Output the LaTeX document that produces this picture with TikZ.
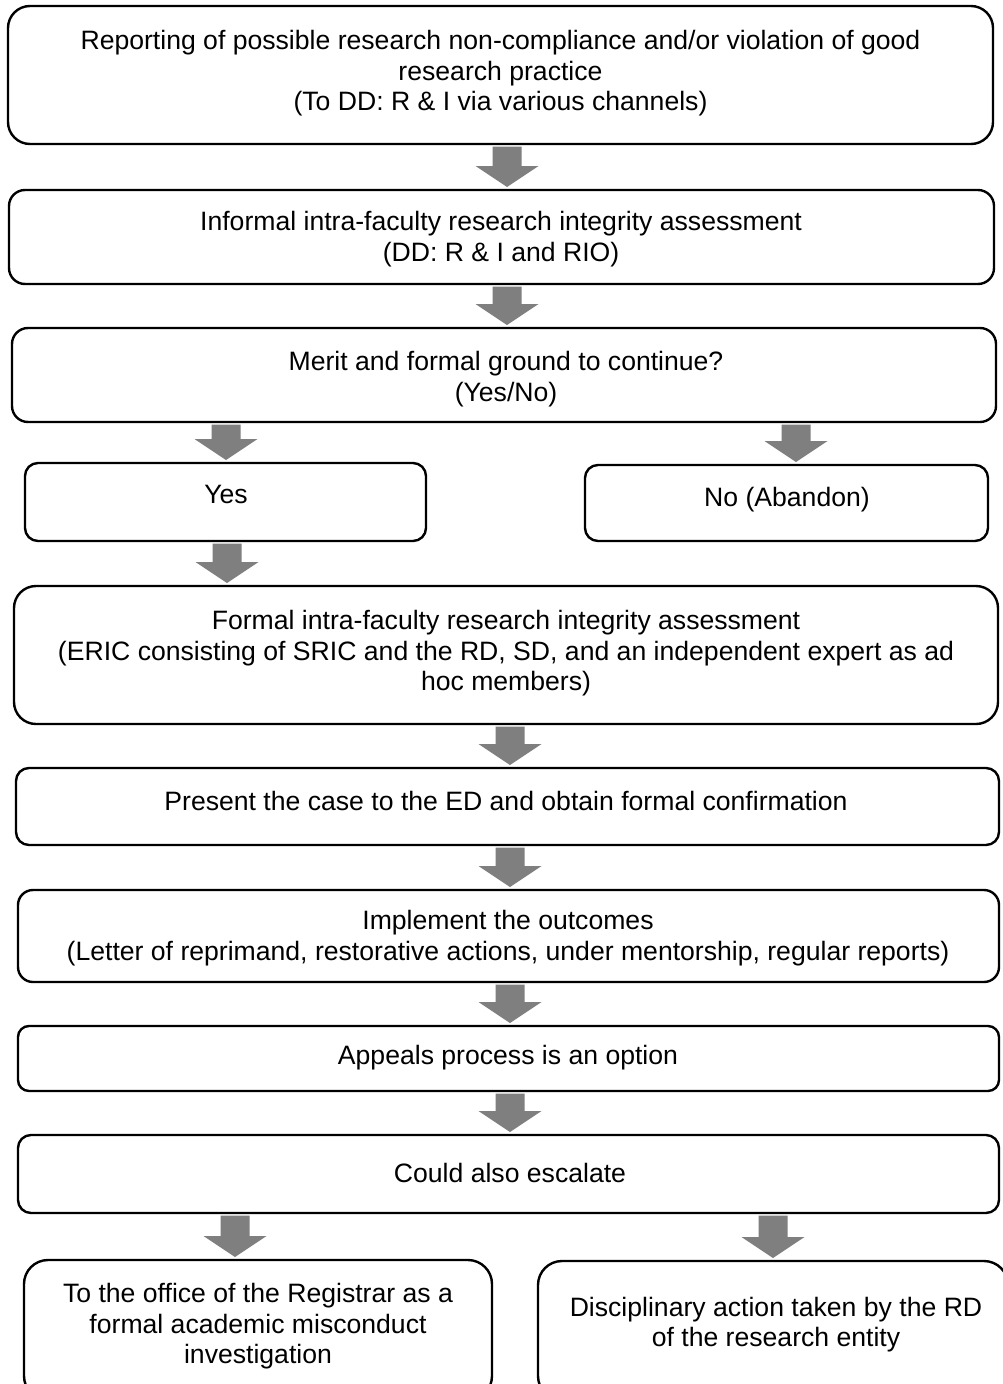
\documentclass[tikz,border=0pt]{standalone}
\usepackage{fontspec}
\setmainfont{Liberation Sans}
\usetikzlibrary{calc}
\definecolor{arrowgray}{HTML}{7F7F7F}
\tikzset{
  box/.style={draw=black, line width=2.4pt, rectangle, inner sep=0pt, outer sep=0pt},
  txt/.style={align=center, inner sep=0pt, outer sep=0pt, font=\fontsize{26.6}{30.6}\selectfont},
  blkarrow/.style={fill=arrowgray, draw=none},
}
% #1 = x of the arrow, #2 = upper node, #3 = lower node
\newcommand\blkarr[3]{%
  \path[blkarrow] let \p1=(#2.south), \p2=(#3.north) in
    (#1-14.5,\y1-2.5pt) -- (#1+14.5,\y1-2.5pt) -- (#1+14.5,\y2+24pt) --
    (#1+31.5,\y2+24pt) -- (#1,\y2+3pt) -- (#1-31.5,\y2+24pt) --
    (#1-14.5,\y2+24pt) -- cycle;}
\begin{document}
\begin{tikzpicture}[x=1pt,y=1pt]
\useasboundingbox (0,0) rectangle (1003,-1384);
\clip (0,0) rectangle (1003,-1384);
\fill[white] (0,0) rectangle (1003,-1384);

% boxes
\node[box, rounded corners=22pt, minimum width=985pt, minimum height=138pt] (b1) at (500.5,-75) {};
\node[box, rounded corners=16pt, minimum width=985pt, minimum height=94pt] (b2) at (501.5,-237) {};
\node[box, rounded corners=16pt, minimum width=984pt, minimum height=94pt] (b3) at (504,-375) {};
\node[box, rounded corners=13pt, minimum width=401pt, minimum height=78pt] (yes) at (225.5,-502) {};
\node[box, rounded corners=13pt, minimum width=403pt, minimum height=76pt] (no) at (786.5,-503) {};
\node[box, rounded corners=22pt, minimum width=984pt, minimum height=138pt] (b4) at (506,-655) {};
\node[box, rounded corners=13pt, minimum width=983pt, minimum height=77pt] (b5) at (507.5,-806.5) {};
\node[box, rounded corners=15pt, minimum width=981pt, minimum height=92pt] (b6) at (508.5,-936) {};
\node[box, rounded corners=11pt, minimum width=981pt, minimum height=65pt] (b7) at (508.5,-1058.5) {};
\node[box, rounded corners=13pt, minimum width=981pt, minimum height=78pt] (b8) at (508.5,-1174) {};
\node[box, rounded corners=24pt, minimum width=468pt, minimum height=140pt] (b9l) at (258,-1330) {};
\node[box, rounded corners=24pt, minimum width=470pt, minimum height=139pt] (b9r) at (773,-1330.5) {};

% texts
\node[txt] (t1) at (500.5,-74) {\strut Reporting of possible research non-compliance and/or violation of good\\\strut research practice\\\strut (To DD: R \& I via various channels)};
\node[txt] (t2) at (501,-240) {\strut Informal intra-faculty research integrity assessment\\\strut (DD: R \& I and RIO)};
\node[txt] (t3) at (506,-380) {\strut Merit and formal ground to continue?\\\strut (Yes/No)};
\node[txt] (tyes) at (226,-497) {\strut Yes};
\node[txt] (tno) at (787,-500) {\strut No (Abandon)};
\node[txt] (t4) at (506,-654) {\strut Formal intra-faculty research integrity assessment\\\strut (ERIC consisting of SRIC and the RD, SD, and an independent expert as ad\\\strut hoc members)};
\node[txt] (t5) at (506,-804) {\strut Present the case to the ED and obtain formal confirmation};
\node[txt] (t6) at (508,-939) {\strut Implement the outcomes\\\strut (Letter of reprimand, restorative actions, under mentorship, regular reports)};
\node[txt] (t7) at (508,-1058) {\strut Appeals process is an option};
\node[txt] (t8) at (510,-1176) {\strut Could also escalate};
\node[txt] (t9l) at (258,-1327) {\strut To the office of the Registrar as a\\\strut formal academic misconduct\\\strut investigation};
\node[txt] (t9r) at (776,-1325.5) {\strut Disciplinary action taken by the RD\\\strut of the research entity};

% block arrows
\blkarr{507}{b1}{b2}
\blkarr{507}{b2}{b3}
\blkarr{226}{b3}{yes}
\blkarr{796}{b3}{no}
\blkarr{227}{yes}{b4}
\blkarr{510}{b4}{b5}
\blkarr{510}{b5}{b6}
\blkarr{510}{b6}{b7}
\blkarr{510}{b7}{b8}
\blkarr{235}{b8}{b9l}
\blkarr{773}{b8}{b9r}
\end{tikzpicture}
\end{document}
